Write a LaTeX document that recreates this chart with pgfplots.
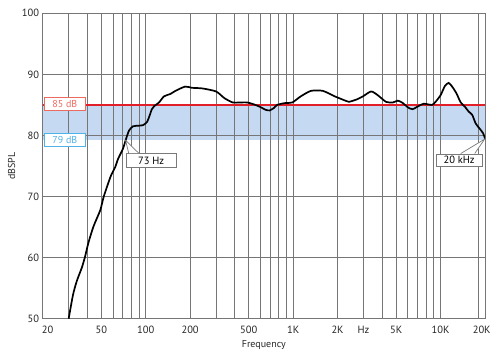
\documentclass[border=0pt]{standalone}
\usepackage{fontspec}
\setmainfont{PT Sans}
\usepackage{pgfplots}
\pgfplotsset{compat=1.18}

\definecolor{gridgray}{HTML}{767676}
\definecolor{band}{HTML}{C5D9F2}
\definecolor{redline}{HTML}{E3202A}
\definecolor{lblred}{HTML}{EE6A5E}
\definecolor{lblblue}{HTML}{4FB3E8}
\definecolor{callgray}{HTML}{7A7A7A}

\begin{document}
\begin{tikzpicture}
\begin{axis}[
  name=ax, set layers,
  xmode=log, xmin=20, xmax=20000, ymin=50, ymax=100,
  width=442.3pt, height=305.4pt, scale only axis,
  xtick={20,30,40,50,60,70,80,90,100,200,300,400,500,600,700,800,900,1000,2000,3000,4000,5000,6000,7000,8000,9000,10000,18000,20000},
  xticklabels={\hspace*{10pt}20,,,50,,,,,100,200,,,500,,,,,1K,2K,Hz,,5K,,,,,10K,,20K\hspace*{6.6pt}},
  ytick={50,60,70,80,90,100},
  grid=major,
  major grid style={gridgray, line width=0.9pt},
  axis line style={gridgray, line width=0.9pt},
  major tick length=0pt, minor tick length=0pt,
  tick label style={font=\fontsize{10.5}{12}\selectfont, text=black!85},
  xticklabel style={yshift=-4pt},
  /pgf/number format/assume math mode=true,
  xlabel={Frequency}, ylabel={dBSPL},
  label style={font=\fontsize{10}{12}\selectfont, text=black!85},
]
\addplot[fill=band, draw=none, on layer=axis background] coordinates {(20,79.3) (20000,79.3) (20000,85) (20,85)} -- cycle;
\addplot[redline, line width=1.8pt] coordinates {(20,85) (20000,85)};
\addplot[black, line width=1.7pt, smooth, tension=0.4] coordinates {
(30,50.0) (32.1,53.9) (34.1,56.2) (36.9,58.4) (38.8,60.2) (40.8,62.4) (44.2,65.1)
(49.2,67.8) (51.9,70.0) (57.8,73.3) (62,74.8) (65,76.2) (70,77.8) (73,79.2)
(77,80.8) (82,81.5) (90,81.6) (96,81.7) (102,82.2) (106,83.2) (110,84.3)
(114,84.8) (123,85.4) (133,86.4) (147,86.8) (159,87.3) (185,88.0) (206,87.8)
(242,87.7) (300,87.2) (342,86.1) (389,85.4) (430,85.4) (488,85.4) (540,85.1)
(594,84.7) (650,84.2) (692,84.1) (740,84.5) (778,85.0) (880,85.3) (986,85.4)
(1125,86.4) (1320,87.3) (1589,87.3) (1916,86.4) (2256,85.7) (2382,85.5)
(2700,85.9) (2971,86.4) (3377,87.2) (3743,86.6) (4264,85.5) (4744,85.4)
(5134,85.7) (5550,85.3) (6000,84.6) (6443,84.3) (7073,84.8) (7686,85.2)
(8735,85.0) (9232,85.5) (10000,86.6) (10690,88.1) (11340,88.6) (11970,88.0)
(12800,86.9) (13690,85.4) (14630,84.7) (15500,83.9) (16360,83.4) (17260,82.0)
(18280,81.2) (19380,80.4) (20000,79.5)
};
\node[draw=lblred, fill=white, text=lblred, line width=0.7pt, anchor=west, inner sep=0pt,
  minimum width=41pt, minimum height=13pt, font=\fontsize{10}{12}\selectfont, xshift=1.3pt]
  at (axis cs:20,85.1) {85 dB};
\node[draw=lblblue, fill=white, text=lblblue, line width=0.7pt, anchor=west, inner sep=0pt,
  minimum width=41pt, minimum height=13pt, font=\fontsize{10}{12}\selectfont, xshift=1.3pt]
  at (axis cs:20,79.3) {79 dB};
\node[draw=callgray, fill=white, line width=0.7pt, inner sep=0pt, minimum width=50pt,
  minimum height=14pt, font=\fontsize{10.5}{12}\selectfont] (c73) at (axis cs:108.6,75.9) {73 Hz};
\fill[white] (axis cs:73,79.2) -- ([xshift=3pt]c73.north west) -- ([xshift=13pt]c73.north west) -- cycle;
\draw[callgray, line width=0.7pt] ([xshift=3pt]c73.north west) -- (axis cs:73,79.2) -- ([xshift=13pt]c73.north west);
\node[draw=callgray, fill=white, line width=0.7pt, inner sep=0pt, minimum width=46pt,
  minimum height=12pt, font=\fontsize{10.5}{12}\selectfont] (c20) at (axis cs:13340,76.0) {20 kHz};
\fill[white] (axis cs:19900,79.4) -- ([xshift=25pt]c20.north west) -- ([xshift=39pt]c20.north west) -- cycle;
\draw[callgray, line width=0.7pt] ([xshift=25pt]c20.north west) -- (axis cs:19900,79.4) -- ([xshift=39pt]c20.north west);
\end{axis}
\pgfresetboundingbox
\useasboundingbox ([xshift=-42.7pt,yshift=-42.3pt]ax.south west) rectangle ([xshift=457.3pt,yshift=318.7pt]ax.south west);
\end{tikzpicture}
\end{document}
